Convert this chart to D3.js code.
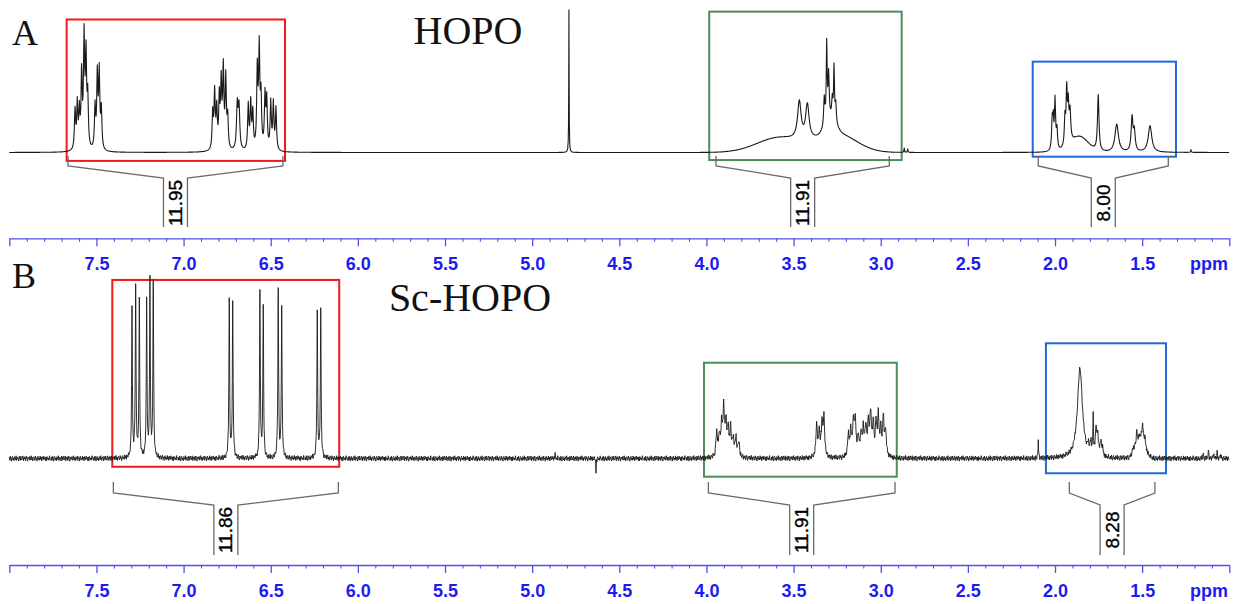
<!DOCTYPE html>
<html><head><meta charset="utf-8">
<script src="https://cdn.jsdelivr.net/npm/d3@7/dist/d3.min.js"></script>
<style>body{margin:0;background:#fff;}svg{display:block;}</style>
</head><body>
<svg id="chart" width="1233" height="604"></svg>
<script>
// ---------------- data ----------------
const ppmDomain = [8.0, 1.0];
const majorTicks = [8.0, 7.5, 7.0, 6.5, 6.0, 5.5, 5.0, 4.5, 4.0, 3.5, 3.0, 2.5, 2.0, 1.5, 1.0];
const tickLabels = ["", "7.5", "7.0", "6.5", "6.0", "5.5", "5.0", "4.5", "4.0", "3.5", "3.0", "2.5", "2.0", "1.5", ""];
const axisUnit = "ppm";
const panelLetters = ["A", "B"];
const panelTitles = ["HOPO", "Sc-HOPO"];

// HOPO: sharp lines [ppm, height, half-width]
const hopoLines = [
  [7.623, 28, .004], [7.610, 32, .004], [7.598, 26, .004], [7.585, 52, .004], [7.571, 78, .004], [7.560, 64, .004], [7.550, 36, .004],
  [7.508, 30, .004], [7.495, 52, .004], [7.484, 54, .004], [7.472, 28, .004],
  [6.833, 26, .004], [6.822, 40, .004], [6.810, 28, .004], [6.795, 36, .004], [6.784, 46, .004], [6.772, 56, .004], [6.758, 50, .004], [6.747, 22, .004],
  [6.692, 32, .005], [6.682, 30, .005],
  [6.629, 32, .004], [6.615, 33, .004], [6.603, 26, .004],
  [6.577, 56, .004], [6.566, 70, .004], [6.556, 36, .004],
  [6.533, 38, .004], [6.523, 35, .004], [6.500, 34, .004], [6.485, 33, .004], [6.470, 30, .004],
  [4.789, 102, .0012],
  [3.467, 27, .012], [3.421, 25, .012],
  [3.324, 20, .004], [3.310, 55, .003], [3.299, 32, .004], [3.278, 14, .004], [3.268, 38, .003], [3.258, 14, .004],
  [2.865, 3, .002], [2.845, 2.5, .002],
  [2.016, 22, .004], [2.010, 18, .003], [2.000, 36, .004], [1.989, 14, .004],
  [1.943, 20, .004], [1.933, 38, .004], [1.924, 26, .004], [1.914, 22, .005],
  [1.752, 40, .005], [1.646, 20, .012], [1.558, 24, .006], [1.545, 14, .006], [1.455, 19, .012],
  [1.220, 2, .002]
];
// HOPO: broad humps [ppm, height, sigma]
const hopoHumps = [[3.58, 10.5, 0.13], [3.25, 13, 0.11], [3.29, 10, 0.03], [1.86, 11, 0.05]];

// Sc-HOPO: sharp lines [ppm, height, half-width]
const scLines = [
  [7.296, 82, .0025], [7.275, 95, .0025], [7.254, 87, .0025], [7.212, 86, .0025], [7.193, 97, .0025], [7.174, 97, .0025],
  [6.738, 88, .0025], [6.718, 85, .0025], [6.562, 93, .0025], [6.543, 85, .0025],
  [6.457, 93, .0025], [6.437, 85, .0025], [6.233, 80, .0025], [6.213, 82, .0025],
  [4.869, 3.3, .0015], [4.634, -7, .0015],
  [3.941, 14, .005], [3.926, 11, .005], [3.913, 16, .005], [3.901, 26, .005], [3.888, 18, .005],
  [3.875, 15, .005], [3.861, 15, .005], [3.846, 10, .005], [3.831, 10, .005], [3.815, 9, .005],
  [3.368, 18, .005], [3.353, 13, .005], [3.337, 18, .005], [3.326, 21, .005],
  [3.186, 12, .005], [3.172, 14, .005], [3.157, 18, .005], [3.146, 20, .005], [3.129, 10, .005], [3.113, 13, .005],
  [3.100, 14, .005], [3.086, 16, .005], [3.071, 18, .005], [3.058, 23, .005], [3.043, 17, .005], [3.027, 17, .005],
  [3.014, 21, .005], [3.000, 14, .005], [2.985, 21, .005], [2.972, 14, .005],
  [2.096, 11, .0015],
  [1.857, 50, .017], [1.809, 4, .004], [1.794, 7, .004], [1.781, 22, .002], [1.765, 16, .004], [1.755, 12, .004],
  [1.738, 8, .005], [1.727, 4, .005],
  [1.551, 3, .005], [1.531, 6, .004], [1.497, 8, .004], [1.484, 4, .004],
  [1.150, 3, .002], [1.120, 4, .002], [1.090, 3.5, .002], [1.070, 3, .002], [1.050, 2.5, .002]
];
const scHumps = [[1.51, 12, 0.025]];
// Sc-HOPO baseline noise (hand-read amplitude)
const scNoise = [0.7,-1.0,1.3,-0.4,-1.5,0.5,1.1,-0.8,0.2,-1.3,1.0,0.3,-0.7,1.5,-1.1,0.0,0.8,-0.5,-1.4,1.2,
  0.3,-1.0,1.3,-0.2,-0.8,0.6,1.4,-1.3,0.5,-0.3,1.0,-1.2,0.2,1.3,-0.6,-1.5,0.8,0.3,-0.5,1.1,
  -1.0,0.0,1.5,-0.8,0.5,-1.3,0.7,1.0,-0.3,-1.1,1.3,-0.2,0.3,-1.5,0.8,1.2,-0.7,0.2,-1.0,1.4,
  -0.5,0.7,-1.3,1.0,0.0,-0.8,1.3,-0.3,0.5,-1.2,0.8,-1.4,1.1,0.2,-0.7,0.3,-1.0,1.5,-0.2,-0.5,-1.1];

// integration brackets
const hopoIntRanges = [[7.663, 6.430], [3.945, 2.951], [2.096, 1.350]];
const hopoIntLabels = ["11.95", "11.91", "8.00"];
const scIntRanges = [[7.403, 6.112], [3.989, 2.918], [1.918, 1.427]];
const scIntLabels = ["11.86", "11.91", "8.28"];

// highlight boxes [ppm from, ppm to], [intensity top, intensity bottom]
const hopoBoxPpm = [[7.671, 6.418], [3.984, 2.880], [2.128, 1.306]];
const hopoBoxInt = [[95, -6], [100.6, -5.4], [64.9, -3]];
const scBoxPpm = [[7.409, 6.107], [4.014, 2.908], [2.052, 1.363]];
const scBoxInt = [[99.2, -4.6], [53.2, -10.1], [64, -8.2]];
const boxColors = ["#f01818", "#4d8c5c", "#2268d8"];

// ---------------- drawing ----------------
const svg = d3.select("#chart");
const x = d3.scaleLinear().domain(ppmDomain).range([9.3, 1229.3]);
const yA = d3.scaleLinear().domain([0, 100]).range([152.5, 12.5]);
const yB = d3.scaleLinear().domain([0, 100]).range([458.5, 278.5]);

function trace(lines, humps, noise) {
  const step = 0.003;
  const n = Math.round((ppmDomain[0] - ppmDomain[1]) / step);
  const pts = [];
  for (let i = 0; i <= n; i++) pts.push(ppmDomain[0] - i * step);
  lines.forEach(([c, h, w]) => { if (w < 0.008) pts.push(c, c - w, c + w, c - 2 * w, c + 2 * w); });
  pts.sort((a, b) => b - a);
  return pts.map(p => {
    let v = 0;
    for (const [c, h, w] of lines) { const d = (p - c) / w; v += h / (1 + d * d); }
    for (const [c, h, s] of humps) { const d = (p - c) / s; v += h * Math.exp(-0.5 * d * d); }
    if (noise) { const k = Math.max(0, Math.floor((ppmDomain[0] - p) / step + 1e-6)); v += noise[k % noise.length]; }
    return [p, v];
  });
}

function drawBoxes(ranges, ints, y) {
  ranges.forEach((r, i) => {
    svg.append("rect")
      .attr("x", x(r[0])).attr("y", y(ints[i][0]))
      .attr("width", x(r[1]) - x(r[0])).attr("height", y(ints[i][1]) - y(ints[i][0]))
      .attr("fill", "none").attr("stroke", boxColors[i]).attr("stroke-width", 2);
  });
}

function drawSpectrum(data, y, width, color) {
  svg.append("path").datum(data)
    .attr("d", d3.line().x(d => x(d[0])).y(d => y(d[1])))
    .attr("fill", "none").attr("stroke", color).attr("stroke-width", width)
    .attr("stroke-linejoin", "round");
}

function drawBrackets(ranges, labels, ys) {
  const [top, tail, slant, bottom, ty] = ys;
  ranges.forEach((r, i) => {
    const a = x(r[0]), b = x(r[1]), c = x((r[0] + r[1]) / 2);
    svg.append("path")
      .attr("d", `M${a},${top}V${tail}L${c - 12},${slant}V${bottom}M${b},${top}V${tail}L${c + 12},${slant}V${bottom}`)
      .attr("fill", "none").attr("stroke", "#6a6a6a").attr("stroke-width", 1.3);
    svg.append("text")
      .attr("transform", `translate(${c},${ty}) rotate(-90)`)
      .attr("text-anchor", "middle").attr("dominant-baseline", "central")
      .style("font", "19px 'Liberation Sans', Arial, sans-serif").attr("fill", "#000")
      .attr("stroke", "#000").attr("stroke-width", 0.35)
      .text(labels[i]);
  });
}

function drawAxis(yPos) {
  const minor = d3.range(11, 80).map(v => v / 10).filter(v => Math.round(v * 10) % 5 !== 0);
  const gm = svg.append("g").attr("transform", `translate(0,${yPos})`)
    .call(d3.axisBottom(x).tickValues(minor).tickSize(3.5).tickSizeOuter(0).tickFormat(""));
  gm.select(".domain").remove();
  gm.selectAll("line").attr("stroke", "#5050f0").attr("stroke-width", 1.1);
  const g = svg.append("g").attr("transform", `translate(0,${yPos})`)
    .call(d3.axisBottom(x).tickValues(majorTicks).tickSize(8).tickSizeOuter(0).tickPadding(11)
      .tickFormat((d, i) => tickLabels[i]));
  g.selectAll("line,path").attr("stroke", "#5050f0").attr("stroke-width", 1.3);
  g.selectAll("text").attr("fill", "#1c1cf2").style("font", "bold 18px 'Liberation Sans', Arial, sans-serif");
  svg.append("text").attr("x", 1228).attr("y", yPos + 32).attr("text-anchor", "end")
    .attr("fill", "#1c1cf2").style("font", "bold 18px 'Liberation Sans', Arial, sans-serif").text(axisUnit);
}

function serif(txt, xPos, yPos, size, anchor) {
  svg.append("text").attr("x", xPos).attr("y", yPos).attr("text-anchor", anchor)
    .style("font", `${size}px 'Liberation Serif', 'Times New Roman', serif`).attr("fill", "#111").text(txt);
}

// Panel A
drawBoxes(hopoBoxPpm, hopoBoxInt, yA);
drawSpectrum(trace(hopoLines, hopoHumps, null), yA, 1.1, "#1a1a1a");
drawBrackets(hopoIntRanges, hopoIntLabels, [156, 166, 178, 227, 203]);
drawAxis(238.3);
serif(panelLetters[0], 12, 45, 36, "start");
serif(panelTitles[0], 468, 44, 40, "middle");

// Panel B
drawBoxes(scBoxPpm, scBoxInt, yB);
drawSpectrum(trace(scLines, scHumps, scNoise), yB, 0.9, "#1a1a1a");
drawBrackets(scIntRanges, scIntLabels, [482, 493, 505, 555, 530]);
drawAxis(565);
serif(panelLetters[1], 12, 288, 36, "start");
serif(panelTitles[1], 470, 311, 40, "middle");
</script>
</body></html>
